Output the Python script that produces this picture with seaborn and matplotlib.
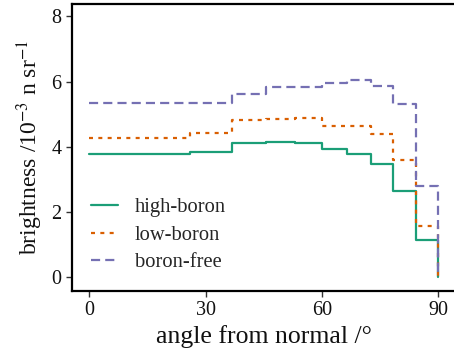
import numpy as np
import pandas as pd
import matplotlib
matplotlib.use("Agg")
import matplotlib.pyplot as plt
import seaborn as sns

# Bin edges in angle (degrees): equal steps in cos(theta)
angle_edges = [0.0, 25.84, 36.87, 45.57, 53.13, 60.0, 66.42, 72.54, 78.46, 84.26, 90.0]

# Brightness per bin (10^-3 n sr^-1)
high_boron = [3.77, 3.83, 4.13, 4.15, 4.13, 3.93, 3.78, 3.46, 2.64, 1.14]
low_boron = [4.28, 4.41, 4.82, 4.85, 4.88, 4.65, 4.65, 4.40, 3.58, 1.58]
boron_free = [5.33, 5.35, 5.63, 5.82, 5.82, 5.94, 6.04, 5.87, 5.30, 2.79]

series_names = ["high-boron", "low-boron", "boron-free"]
series_values = [high_boron, low_boron, boron_free]

x_ticks = [0, 30, 60, 90]
y_ticks = [0, 2, 4, 6, 8]

sns.set_theme(style="ticks")
plt.rcParams["font.family"] = ["Liberation Serif", "DejaVu Serif"]
plt.rcParams["mathtext.fontset"] = "stix"

rows = []
for name, vals in zip(series_names, series_values):
    # steps-post: each value holds until the next edge, closing at 0 at 90 deg
    for x, y in zip(angle_edges, list(vals) + [0.0]):
        rows.append({"angle": x, "brightness": y, "sample": name})
df = pd.DataFrame(rows)

palette = dict(zip(series_names, sns.color_palette("Dark2", 3)))
dashes = {"high-boron": "", "low-boron": (1.8, 2.4), "boron-free": (4.1, 2.3)}
lw = 1.6

fig = plt.figure(figsize=(4.54, 3.54), dpi=100)
ax = fig.add_axes([0.1586, 0.178, 0.845, 0.811])

sns.lineplot(data=df, x="angle", y="brightness", hue="sample", style="sample",
             palette=palette, dashes=dashes, drawstyle="steps-post",
             linewidth=lw, estimator=None, sort=False, ax=ax)

ax.set_xlim(-4.5, 94.5)
ax.set_ylim(-0.42, 8.38)
ax.set_xticks(x_ticks)
ax.set_yticks(y_ticks)
ax.tick_params(axis="both", labelsize=14.5, length=4, width=1, color="#333333",
               labelcolor="#111111")
ax.spines["right"].set_visible(False)
for s in ["left", "bottom", "top"]:
    ax.spines[s].set_linewidth(1.6)
    ax.spines[s].set_color("black")

ax.set_xlabel("angle from normal /°", fontsize=18.5, color="#111111", labelpad=3)
ax.set_ylabel(r"brightness /10$^{-3}$ n sr$^{-1}$", fontsize=17, color="#111111",
              labelpad=5)

leg = ax.legend(loc="lower left", bbox_to_anchor=(0.0, 0.0), frameon=False,
                fontsize=14.8, handlelength=1.35, handletextpad=0.8,
                labelspacing=0.4, title=None)
for line in leg.get_lines():
    line.set_linewidth(lw)

fig.savefig("out.png", dpi=100)
